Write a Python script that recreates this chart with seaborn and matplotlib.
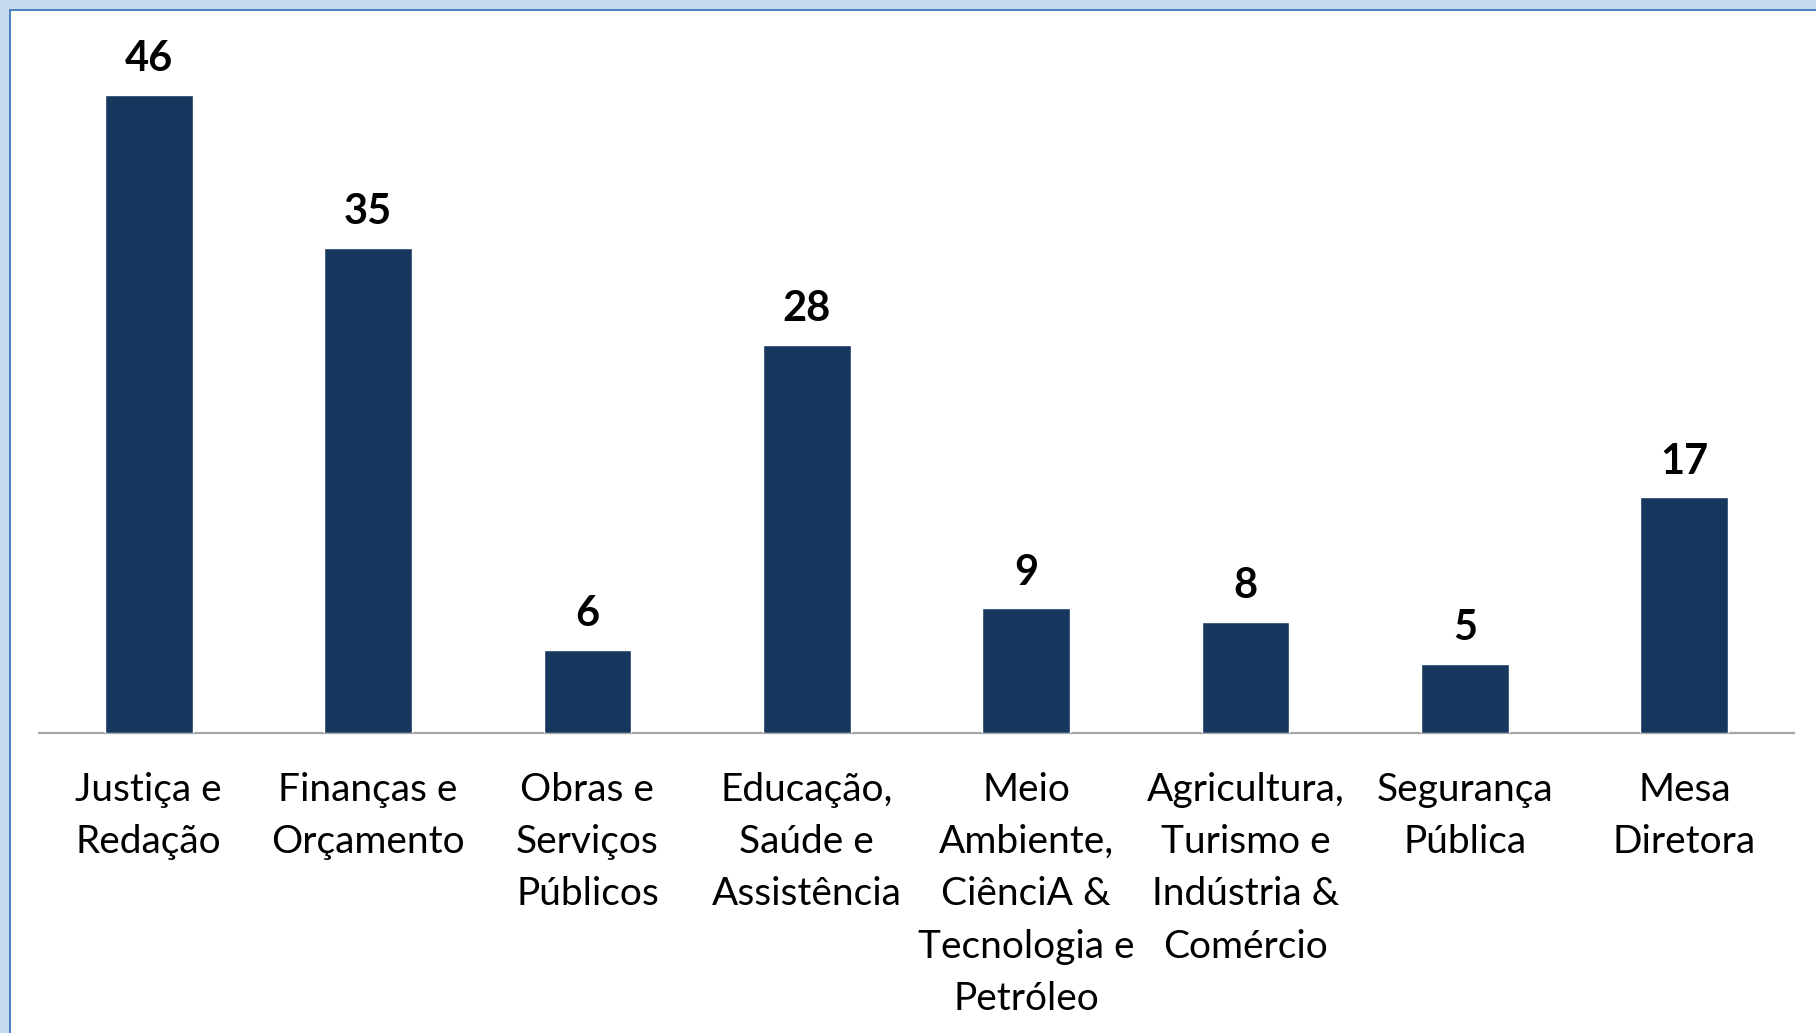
import matplotlib
matplotlib.use("Agg")
import matplotlib.pyplot as plt
import seaborn as sns
import pandas as pd
from matplotlib.patches import Rectangle

categories = [
    "Justiça e\nRedação",
    "Finanças e\nOrçamento",
    "Obras e\nServiços\nPúblicos",
    "Educação,\nSaúde e\nAssistência",
    "Meio\nAmbiente,\nCiênciA &\nTecnologia e\nPetróleo",
    "Agricultura,\nTurismo e\nIndústria &\nComércio",
    "Segurança\nPública",
    "Mesa\nDiretora",
]
values = [46, 35, 6, 28, 9, 8, 5, 17]

sns.set_theme(style="white")
plt.rcParams["font.family"] = ["Lato", "DejaVu Sans"]

W, H = 1816, 1033
fig = plt.figure(figsize=(W / 100, H / 100), dpi=100)
fig.patch.set_facecolor("white")

ax = fig.add_axes([39 / W, (H - 733) / H, 1755 / W, (733 - 39.5) / H])
df = pd.DataFrame({"cat": categories, "val": values})
sns.barplot(data=df, x="cat", y="val", color="#17375e", width=0.40,
            saturation=1, ax=ax, zorder=3)
ax.set_xlim(-0.5, 7.5)
ax.set_ylim(0, 50)
ax.set_xlabel("")
ax.set_ylabel("")
ax.set_yticks([])
for s in ["top", "right", "left"]:
    ax.spines[s].set_visible(False)
ax.spines["bottom"].set_color("#a6a6a6")
ax.spines["bottom"].set_linewidth(1.6)
ax.tick_params(axis="x", length=0, pad=28, labelsize=28, labelcolor="black")
for lbl in ax.get_xticklabels():
    lbl.set_linespacing(1.56)
    lbl.set_verticalalignment("top")

for c in ax.containers:
    ax.bar_label(c, labels=[str(v) for v in values], padding=12,
                 fontsize=30, fontweight="bold", color="black")

# frame decoration (light blue band + blue line on top and left)
fig.patches.append(Rectangle((0, (H - 9) / H), 1, 9 / H, transform=fig.transFigure,
                             facecolor="#c6d9f1", edgecolor="none", zorder=0))
fig.patches.append(Rectangle((0, 0), 9 / W, 1, transform=fig.transFigure,
                             facecolor="#c6d9f1", edgecolor="none", zorder=0))
fig.patches.append(Rectangle((9 / W, (H - 11) / H), 1, 2 / H, transform=fig.transFigure,
                             facecolor="#4f81bd", edgecolor="none", zorder=1))
fig.patches.append(Rectangle((9 / W, 0), 2 / W, (H - 9) / H, transform=fig.transFigure,
                             facecolor="#4f81bd", edgecolor="none", zorder=1))

fig.savefig("out.png", dpi=100, facecolor="white")
